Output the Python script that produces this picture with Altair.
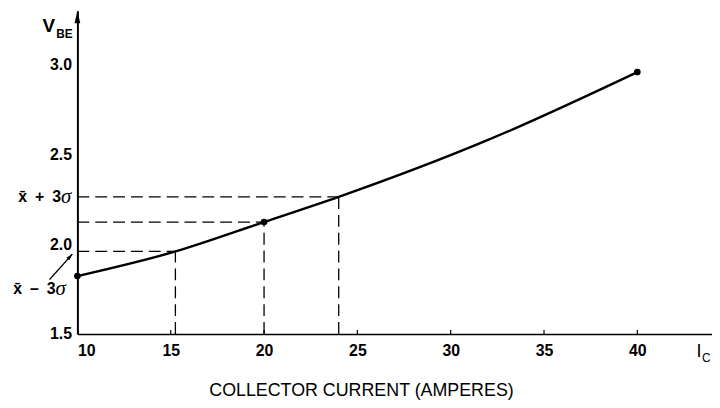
import altair as alt
import pandas as pd

# ---- data ----
ic_curve = [10, 15.25, 20, 24, 32, 40]
vbe_curve = [1.822, 1.959, 2.123, 2.263, 2.580, 2.958]

ic_dots = [10, 20, 40]
vbe_dots = [1.822, 2.123, 2.958]

guide_ic = [15.25, 20, 24]
guide_vbe = [1.959, 2.123, 2.263]

x_ticks = [10, 15, 20, 25, 30, 35, 40]
y_ticks = [1.5, 2.0, 2.5, 3.0]
x_domain = [10, 44]
y_domain = [1.5, 3.3]

X_TITLE = "COLLECTOR CURRENT (AMPERES)"

FONT = "Liberation Sans"
SERIF = "Liberation Serif"

xs = alt.Scale(domain=x_domain, nice=False, zero=False)
ys = alt.Scale(domain=y_domain, nice=False, zero=False)

curve_df = pd.DataFrame({"ic": ic_curve, "vbe": vbe_curve})
dots_df = pd.DataFrame({"ic": ic_dots, "vbe": vbe_dots})
h_df = pd.DataFrame({"ic": [x_domain[0]] * len(guide_ic), "ic2": guide_ic, "vbe": guide_vbe})
v_df = pd.DataFrame({"ic": guide_ic, "vbe": [y_domain[0]] * len(guide_ic), "vbe2": guide_vbe})
tick_df = pd.DataFrame({"ic": x_ticks[1:], "vbe": [y_domain[0]] * (len(x_ticks) - 1),
                        "vbe2": [y_domain[0] + 0.022] * (len(x_ticks) - 1)})

x_axis = alt.Axis(values=x_ticks, ticks=False, grid=False, domainColor="black", domainWidth=1.5,
                  labelFont=FONT, labelFontSize=16, labelFontWeight="bold", labelColor="black",
                  labelPadding=9, labelFlush=True, labelOverlap=False,
                  title=X_TITLE, titleFont=FONT, titleFontSize=18, titleFontWeight="normal",
                  titleColor="black", titleX=286, titleY=62, titleBaseline="alphabetic",
                  titleAlign="center")
y_axis = alt.Axis(values=y_ticks, format=".1f", ticks=False, grid=False, domainColor="black",
                  domainWidth=2, labelFont=FONT, labelFontSize=16, labelFontWeight="bold",
                  labelColor="black", labelPadding=6, labelOverlap=False, title=None)

curve = alt.Chart(curve_df).mark_line(color="black", strokeWidth=2.4, interpolate="monotone").encode(
    x=alt.X("ic:Q", scale=xs, axis=x_axis),
    y=alt.Y("vbe:Q", scale=ys, axis=y_axis),
)

dots = alt.Chart(dots_df).mark_circle(color="black", size=45, opacity=1).encode(
    x=alt.X("ic:Q", scale=xs), y=alt.Y("vbe:Q", scale=ys))

hguides = alt.Chart(h_df).mark_rule(color="black", strokeWidth=1.3, strokeDash=[12, 6]).encode(
    x=alt.X("ic:Q", scale=xs), x2="ic2:Q", y=alt.Y("vbe:Q", scale=ys))

vguides = alt.Chart(v_df).mark_rule(color="black", strokeWidth=1.3, strokeDash=[12, 6]).encode(
    x=alt.X("ic:Q", scale=xs), y=alt.Y("vbe:Q", scale=ys), y2="vbe2:Q")

xticks_in = alt.Chart(tick_df).mark_rule(color="black", strokeWidth=1.2).encode(
    x=alt.X("ic:Q", scale=xs), y=alt.Y("vbe:Q", scale=ys), y2="vbe2:Q")

# arrow head on top of the y axis
arrow_df = pd.DataFrame({"ic": [x_domain[0]], "vbe": [y_domain[1]]})
y_arrow = alt.Chart(arrow_df).mark_point(
    shape="M0,0L0.36,1.6L-0.36,1.6Z", filled=True, color="black", size=256, opacity=1
).encode(x=alt.X("ic:Q", scale=xs), y=alt.Y("vbe:Q", scale=ys))

# annotation arrow for x-bar minus 3 sigma
ann_df = pd.DataFrame({"ic": [8.51], "vbe": [1.803], "ic2": [9.73], "vbe2": [1.945]})
ann_line = alt.Chart(ann_df).mark_rule(color="black", strokeWidth=1.2).encode(
    x=alt.X("ic:Q", scale=xs), y=alt.Y("vbe:Q", scale=ys), x2="ic2:Q", y2="vbe2:Q")
head_df = pd.DataFrame({"ic": [9.73], "vbe": [1.945]})
ann_head = alt.Chart(head_df).mark_point(
    shape="M0,0L0.5,1.7L-0.5,1.7Z", filled=True, color="black", size=64, angle=42, opacity=1
).encode(x=alt.X("ic:Q", scale=xs), y=alt.Y("vbe:Q", scale=ys))


def label(ic, vbe, text, align, size, weight="bold", font=FONT, style="normal", baseline="middle"):
    df = pd.DataFrame({"ic": [ic], "vbe": [vbe], "t": [text]})
    return alt.Chart(df).mark_text(align=align, baseline=baseline, font=font, fontSize=size,
                                   fontWeight=weight, fontStyle=style, color="black").encode(
        x=alt.X("ic:Q", scale=xs), y=alt.Y("vbe:Q", scale=ys), text="t:N")


labels = [
    label(9.12, 2.263, "x\u0304\u2002+\u20023", "right", 16),
    label(9.12, 2.263, "\u03c3", "left", 21, weight="normal", font=SERIF, style="italic"),
    label(8.83, 1.748, "x\u0304\u2002\u2013\u20023", "right", 16),
    label(8.83, 1.748, "\u03c3", "left", 21, weight="normal", font=SERIF, style="italic"),
    label(8.80, 3.215, "V", "right", 19),
    label(8.86, 3.170, "BE", "left", 12),
    label(43.30, 1.397, "I", "center", 18, weight="normal"),
    label(43.47, 1.366, "C", "left", 12, weight="normal"),
]

chart = alt.layer(curve, hguides, vguides, xticks_in, dots, y_arrow, ann_line, ann_head, *labels).properties(
    width=640, height=326,
    autosize=alt.AutoSizeParams(type="none"),
    padding={"left": 70, "top": 1, "right": 0, "bottom": 68},
    background="white",
).configure_view(stroke=None)

chart.save("out.html", embed_options={"renderer": "svg", "actions": False})
